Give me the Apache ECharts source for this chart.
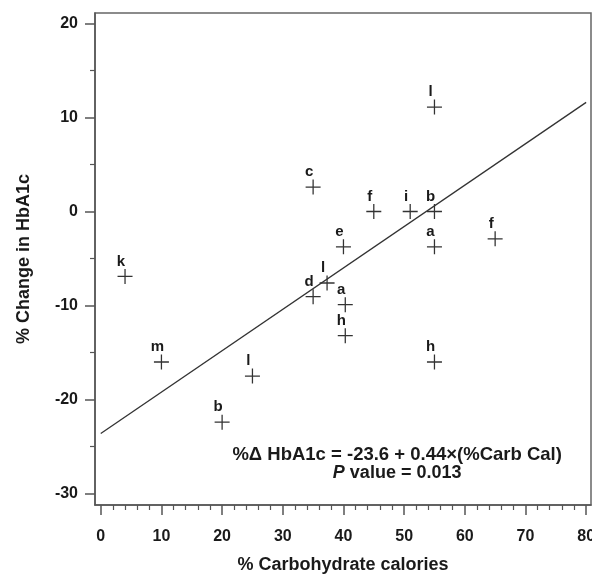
<!DOCTYPE html>
<html>
<head>
<meta charset="utf-8">
<script src="https://cdn.jsdelivr.net/npm/echarts@6/dist/echarts.min.js"></script>
<style>html,body{margin:0;padding:0;background:#fff;}#c{width:592px;height:576px;}</style>
</head>
<body>
<div id="c"></div>
<script>
// ---- data ----
const pointLabels = ['k','m','b','l','c','l','f','i','b','e','a','f','d','l','a','h','h'];
const pointX = [4, 10, 20, 25, 35, 55, 45, 51, 55, 40, 55, 65, 35, 37.3, 40.3, 40.3, 55];
const pointY = [-6.9, -16.0, -22.4, -17.5, 2.6, 11.1, 0, 0, 0, -3.75, -3.75, -2.9, -9.05, -7.6, -9.9, -13.2, -16.0];
const fitX = [0, 80];
const fitY = [-23.6, 11.6];
const xMajorTicks = [0, 10, 20, 30, 40, 50, 60, 70, 80];
const xMinorTicks = [2,4,6,8,12,14,16,18,22,24,26,28,32,34,36,38,42,44,46,48,52,54,56,58,62,64,66,68,72,74,76,78];
const yMajorTicks = [-30, -20, -10, 0, 10, 20];
const yMinorTicks = [-25, -15, -5, 5, 15];
const eqLine1 = '%Δ HbA1c = -23.6 + 0.44×(%Carb Cal)';
const eqLine2P = 'P';
const eqLine2Rest = ' value = 0.013';
const eqAnchor = [48.85, -25.86];
const eqAnchor2 = [48.85, -27.8];

const FONT = '"Liberation Sans", Arial, sans-serif';
const AX = '#555';
const INK = '#1a1a1a';
const xMin = -0.95, xMax = 80.8, yMin = -31.2, yMax = 21.1;

const chart = echarts.init(document.getElementById('c'));

const scatterData = pointX.map((x, i) => ({ value: [x, pointY[i]], name: pointLabels[i] }));
const fitData = fitX.map((x, i) => [x, fitY[i]]);

const axisCommon = {
  type: 'value', splitLine: { show: false }, scale: false
};

chart.setOption({
  animation: false,
  backgroundColor: '#fff',
  grid: { left: 95, right: 1, top: 13, bottom: 71, show: true, borderColor: '#666', borderWidth: 1.5, backgroundColor: 'transparent', containLabel: false, outerBoundsMode: 'none' },
  xAxis: [
    Object.assign({}, axisCommon, {
      min: xMin, max: xMax, position: 'bottom',
      name: '% Carbohydrate calories', nameLocation: 'middle', nameGap: 51,
      nameTextStyle: { fontFamily: FONT, fontWeight: 'bold', fontSize: 18, color: INK },
      axisLine: { show: true, onZero: false, lineStyle: { color: AX, width: 1.5 } },
      axisTick: { show: true, customValues: xMajorTicks, length: 10, lineStyle: { color: AX, width: 1.5 } },
      axisLabel: { show: true, customValues: xMajorTicks, margin: 24, fontFamily: FONT, fontWeight: 'bold', fontSize: 16, color: INK }
    }),
    Object.assign({}, axisCommon, {
      min: xMin, max: xMax, position: 'bottom',
      axisLine: { show: false, onZero: false },
      axisTick: { show: true, customValues: xMinorTicks, length: 5, lineStyle: { color: AX, width: 1.2 } },
      axisLabel: { show: false }
    })
  ],
  yAxis: [
    Object.assign({}, axisCommon, {
      min: yMin, max: yMax, position: 'left',
      name: '% Change in HbA1c', nameLocation: 'middle', nameGap: 62, nameRotate: 90,
      nameTextStyle: { fontFamily: FONT, fontWeight: 'bold', fontSize: 18, color: INK },
      axisLine: { show: true, onZero: false, lineStyle: { color: AX, width: 1.5 } },
      axisTick: { show: true, customValues: yMajorTicks, length: 10, lineStyle: { color: AX, width: 1.5 } },
      axisLabel: { show: true, customValues: yMajorTicks, margin: 17, fontFamily: FONT, fontWeight: 'bold', fontSize: 16, color: INK }
    }),
    Object.assign({}, axisCommon, {
      min: yMin, max: yMax, position: 'left',
      axisLine: { show: false, onZero: false },
      axisTick: { show: true, customValues: yMinorTicks, length: 5, lineStyle: { color: AX, width: 1.2 } },
      axisLabel: { show: false }
    })
  ],
  series: [
    {
      type: 'line', xAxisIndex: 0, yAxisIndex: 0, data: fitData,
      showSymbol: false, silent: true,
      lineStyle: { color: '#333', width: 1.3 }
    },
    {
      type: 'scatter', xAxisIndex: 0, yAxisIndex: 0, data: scatterData,
      symbol: 'path://M7,0h1.3v15.3h-1.3zM0,7h15.3v1.3h-15.3z',
      symbolSize: 15,
      itemStyle: { color: '#333', opacity: 1 },
      label: {
        show: true, position: 'top', distance: 0, offset: [-4, 0],
        formatter: p => p.name,
        fontFamily: FONT, fontWeight: 'bold', fontSize: 15, color: INK
      },
      silent: true
    }
  ]
});

const p1 = chart.convertToPixel({ xAxisIndex: 0, yAxisIndex: 0 }, eqAnchor);
const p2 = chart.convertToPixel({ xAxisIndex: 0, yAxisIndex: 0 }, eqAnchor2);
chart.setOption({
  graphic: [
    {
      type: 'text', x: p1[0], y: p1[1],
      style: { text: eqLine1, align: 'center', verticalAlign: 'middle', font: 'bold 18.5px ' + FONT, fill: INK }
    },
    {
      type: 'text', x: p2[0], y: p2[1],
      style: {
        text: '{i|' + eqLine2P + '}{n|' + eqLine2Rest + '}', align: 'center', verticalAlign: 'middle',
        rich: {
          i: { fontFamily: FONT, fontWeight: 'bold', fontStyle: 'italic', fontSize: 18, fill: INK, color: INK },
          n: { fontFamily: FONT, fontWeight: 'bold', fontSize: 18, fill: INK, color: INK }
        }
      }
    }
  ]
});
</script>
</body>
</html>
